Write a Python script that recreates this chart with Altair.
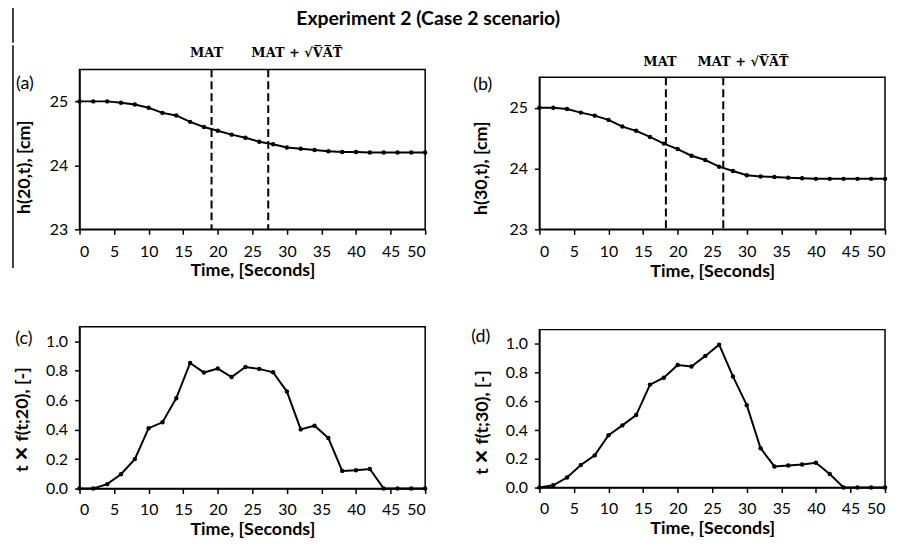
import altair as alt
import pandas as pd

# ---------------- data ----------------
time_s = list(range(0, 51, 2))
h20 = [25.0, 25.0, 25.0, 24.98, 24.95, 24.9, 24.82, 24.78, 24.68, 24.6, 24.54, 24.48, 24.43,
       24.37, 24.33, 24.28, 24.26, 24.24, 24.22, 24.21, 24.21, 24.2, 24.2, 24.2, 24.2, 24.2]
h30 = [25.0, 25.0, 24.98, 24.92, 24.87, 24.8, 24.69, 24.62, 24.52, 24.41, 24.32, 24.21, 24.14,
       24.03, 23.96, 23.89, 23.87, 23.86, 23.85, 23.84, 23.83, 23.83, 23.83, 23.83, 23.83, 23.83]
tf20 = [0.0, 0.0, 0.03, 0.097, 0.2, 0.41, 0.45, 0.614, 0.853, 0.788, 0.815, 0.758, 0.826,
        0.813, 0.79, 0.659, 0.402, 0.427, 0.343, 0.12, 0.124, 0.133, 0.0, 0.0, 0.0, 0.0]
tf30 = [0.0, 0.016, 0.07, 0.157, 0.224, 0.364, 0.433, 0.505, 0.717, 0.765, 0.853, 0.843, 0.917,
        0.995, 0.774, 0.574, 0.274, 0.147, 0.154, 0.161, 0.173, 0.094, 0.0, 0.0, 0.0, 0.0]
mat_a = [19.1, 27.3]   # MAT, MAT + sqrt(VAT) for x = 20
mat_b = [18.3, 26.6]   # MAT, MAT + sqrt(VAT) for x = 30
x_ticks = list(range(0, 51, 5))
h_ticks = [23, 24, 25]
f_ticks = [0.0, 0.2, 0.4, 0.6, 0.8, 1.0]
mat_labels = ["MAT", "MAT + \u221aV\u0305A\u0305T\u0305"]
main_title = "Experiment 2 (Case 2 scenario)"
x_title = "Time, [Seconds]"

FONT = "Lato"
SERIF = "DejaVu Serif"
W = 348
XSCALE = alt.Scale(domain=[0, 50], nice=False)
HIDDEN = alt.ViewBackground(stroke="transparent", strokeWidth=0)
ONE = pd.DataFrame({"s": [main_title]})


def anchor(l, t, r, b):
    # invisible layout box (left, top, right, bottom) around a panel
    return alt.Chart(ONE).mark_rule(strokeOpacity=0, strokeWidth=0).encode(
        x=alt.value(l), x2=alt.value(r), y=alt.value(t), y2=alt.value(b))


def mat_layers(mats, dx, ypos, x):
    mdf = pd.DataFrame({"t": mats, "lab": mat_labels})
    return [
        alt.Chart(mdf.iloc[[0]]).mark_text(
            font=SERIF, fontWeight="bold", fontSize=13, color="black", align="center",
            baseline="middle", dx=dx[0]).encode(x=x, y=alt.value(ypos), text="lab:N"),
        alt.Chart(mdf.iloc[[1]]).mark_text(
            font=SERIF, fontWeight="bold", fontSize=13, color="black", align="left",
            baseline="middle", dx=dx[1]).encode(x=x, y=alt.value(ypos), text="lab:N"),
    ]


def panel(vals, ytitle, ydomain, yticks, yfmt, h, ytx, yty, xty, lpad, letter, lx, ly, box,
          mats=None, labels=None, extras=()):
    df = pd.DataFrame({"t": time_s, "v": vals})
    x = alt.X("t:Q", scale=XSCALE,
              axis=alt.Axis(values=x_ticks, title=x_title, titleX=W / 2, titleY=xty,
                            titleBaseline="alphabetic", titleAlign="center",
                            labelBaseline="alphabetic", labelPadding=lpad))
    y = alt.Y("v:Q", scale=alt.Scale(domain=ydomain, nice=False, zero=False),
              axis=alt.Axis(values=yticks, format=yfmt, title=ytitle, titleX=ytx, titleY=yty,
                            titleAngle=270, titleBaseline="middle", titleAlign="center",
                            labelPadding=7))
    base = alt.Chart(df)
    layers = [
        base.mark_line(color="black", strokeWidth=2).encode(x=x, y=y),
        base.mark_circle(color="black", size=20, opacity=1).encode(x=x, y=y),
        alt.Chart(pd.DataFrame({"s": [letter]})).mark_text(
            font=FONT, fontSize=18, color="black", align="center", baseline="middle"
        ).encode(x=alt.value(lx), y=alt.value(ly), text="s:N"),
        anchor(*box),
    ]
    if mats is not None:
        mdf = pd.DataFrame({"t": mats})
        layers.append(alt.Chart(mdf).mark_rule(color="black", strokeWidth=2, strokeDash=[8, 4])
                      .encode(x=x))
        if labels is not None:
            layers.extend(mat_layers(mats, labels[0], labels[1], x))
    layers.extend(extras)
    return alt.layer(*layers).properties(width=W, height=h)


# title strip (with the top part of the thin left border line)
title_strip = alt.layer(
    alt.Chart(ONE).mark_text(font=FONT, fontWeight="bold", fontSize=19.5, color="black",
                             align="center", baseline="alphabetic")
    .encode(x=alt.value(351), y=alt.value(23), text="s:N"),
    alt.Chart(ONE).mark_rule(color="black", strokeWidth=1.5)
    .encode(x=alt.value(-67), y=alt.value(6), y2=alt.value(41.25)),
    anchor(0, -10, 1, 0),
).properties(width=1, height=42, view=HIDDEN)

extras_a = [
    alt.Chart(ONE).mark_rule(color="black", strokeWidth=1.5)
    .encode(x=alt.value(-67), y=alt.value(-24.25), y2=alt.value(200)),
]

pa = panel(h20, "h(20,t), [cm]", [23, 25.5], h_ticks, "d", 161, -55, 98, 47, 22, "(a)", -55, 15,
           (-71, -25, 362, 220), mats=mat_a, labels=((-5, -17), -16), extras=extras_a)
pb = panel(h30, "h(30,t), [cm]", [23, 25.5], h_ticks, "d", 153, -58, 91, 48, 22, "(b)", -57, 8,
           (-75, -4, 300, 215), mats=mat_b)
pc = panel(tf20, "t \u2715 f(t;20), [-]", [0, 1.1], f_ticks, ".1f", 163, -57, 93, 46, 21,
           "(c)", -56, 12, (-71, -37, 300, 100))
pd_ = panel(tf30, "t \u2715 f(t;30), [-]", [0, 1.1], f_ticks, ".1f", 159, -57, 93, 46, 21,
            "(d)", -59, 7, (-75, -37, 300, 100))

# strip above (b) carrying its MAT labels
labels_b = alt.layer(
    *mat_layers(mat_b, (-6, -26), -7, alt.X("t:Q", scale=XSCALE, axis=None))
).properties(width=W, height=3, view=HIDDEN)

left_col = alt.vconcat(pa, pc, spacing=0, bounds="full")
right_col = alt.vconcat(labels_b, pb, pd_, spacing=0, bounds="full")
panels = alt.hconcat(left_col, right_col, spacing=24, bounds="full")

chart = alt.vconcat(title_strip, panels, spacing=0, bounds="full").properties(
    padding={"left": 0, "top": -18, "right": 0, "bottom": 0},
    background="white",
).configure_view(
    stroke="black", strokeWidth=1.5
).configure_axis(
    grid=False, domainColor="black", domainWidth=1.5, tickColor="black", tickWidth=1.5,
    tickSize=5, labelFont=FONT, labelFontSize=16, labelColor="black",
    titleFont=FONT, titleFontSize=18, titleFontWeight="bold", titleColor="black",
)

chart.save("out.html", embed_options={"renderer": "svg", "actions": False})
